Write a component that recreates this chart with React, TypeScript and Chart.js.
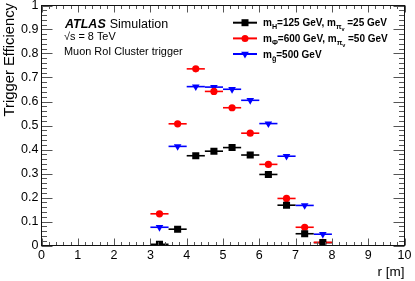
import React, { useEffect, useRef } from 'react';
import { Chart, registerables } from 'chart.js';

Chart.register(...registerables);

// ---- data ----
const binCenters = [3.25, 3.75, 4.25, 4.75, 5.25, 5.75, 6.25, 6.75, 7.25, 7.75];
const binHalfWidth = 0.25;
const effHiggs = [0.005, 0.068, 0.374, 0.393, 0.408, 0.377, 0.296, 0.168, 0.049, 0.012];
const effPhi = [0.132, 0.507, 0.736, 0.642, 0.574, 0.468, 0.338, 0.196, 0.076, 0.013];
const effGluino = [0.076, 0.413, 0.662, 0.66, 0.651, 0.605, 0.508, 0.372, 0.167, 0.047];
const xTickValues = [0, 1, 2, 3, 4, 5, 6, 7, 8, 9, 10];
const yTickValues = [0, 0.1, 0.2, 0.3, 0.4, 0.5, 0.6, 0.7, 0.8, 0.9, 1];
const yTickLabels = ['0', '0.1', '0.2', '0.3', '0.4', '0.5', '0.6', '0.7', '0.8', '0.9', '1'];

const FONT = '"Liberation Sans", Arial, Helvetica, sans-serif';

type Seg = { t: string; lvl: number };

const legendEntries: { color: string; marker: string; segs: Seg[] }[] = [
  {
    color: '#000000',
    marker: 'rect',
    segs: [
      { t: 'm', lvl: 0 },
      { t: 'H', lvl: 1 },
      { t: '=125 GeV, m', lvl: 0 },
      { t: '\u03c0', lvl: 1 },
      { t: 'v', lvl: 2 },
      { t: ' =25 GeV', lvl: 0 },
    ],
  },
  {
    color: '#ff0000',
    marker: 'circle',
    segs: [
      { t: 'm', lvl: 0 },
      { t: '\u03a6', lvl: 1 },
      { t: '=600 GeV, m', lvl: 0 },
      { t: '\u03c0', lvl: 1 },
      { t: 'v', lvl: 2 },
      { t: ' =50 GeV', lvl: 0 },
    ],
  },
  {
    color: '#0000ff',
    marker: 'tri',
    segs: [
      { t: 'm', lvl: 0 },
      { t: 'g\u0303', lvl: 1 },
      { t: '=500 GeV', lvl: 0 },
    ],
  },
];

function drawRich(ctx: CanvasRenderingContext2D, segs: Seg[], x: number, y: number, size: number, weight: string) {
  let cx = x;
  for (const s of segs) {
    const fs = s.lvl === 0 ? size : s.lvl === 1 ? size * 0.72 : size * 0.55;
    const dy = s.lvl === 0 ? 0 : s.lvl === 1 ? size * 0.28 : size * 0.5;
    ctx.font = `${weight} ${fs}px ${FONT}`;
    ctx.fillText(s.t, cx, y + dy);
    cx += ctx.measureText(s.t).width;
  }
}

function drawMarker(ctx: CanvasRenderingContext2D, kind: string, x: number, y: number, color: string) {
  ctx.fillStyle = color;
  ctx.beginPath();
  if (kind === 'rect') {
    ctx.rect(x - 3.5, y - 3.5, 7, 7);
  } else if (kind === 'circle') {
    ctx.arc(x, y, 3.5, 0, Math.PI * 2);
  } else {
    const r = 4.4;
    ctx.moveTo(x, y + r);
    ctx.lineTo(x - r * 0.866, y - r * 0.5);
    ctx.lineTo(x + r * 0.866, y - r * 0.5);
    ctx.closePath();
  }
  ctx.fill();
}

const errorBarPlugin = {
  id: 'errorBars',
  beforeDatasetsDraw(chart: any) {
    const ctx: CanvasRenderingContext2D = chart.ctx;
    const xs = chart.scales.x;
    const ys = chart.scales.y;
    ctx.save();
    chart.data.datasets.forEach((ds: any) => {
      ctx.strokeStyle = ds.backgroundColor;
      ctx.lineWidth = 1.6;
      ds.data.forEach((p: any) => {
        const py = ys.getPixelForValue(p.y);
        ctx.beginPath();
        ctx.moveTo(xs.getPixelForValue(p.x - binHalfWidth), py);
        ctx.lineTo(xs.getPixelForValue(p.x + binHalfWidth), py);
        ctx.stroke();
      });
    });
    ctx.restore();
  },
};

const framePlugin = {
  id: 'rootFrame',
  afterDraw(chart: any) {
    const ctx: CanvasRenderingContext2D = chart.ctx;
    const xs = chart.scales.x;
    const ys = chart.scales.y;
    const { left, right, top, bottom } = chart.chartArea;
    ctx.save();
    // ticks
    ctx.strokeStyle = '#555';
    ctx.lineWidth = 1;
    ctx.beginPath();
    for (let i = 0; i <= 50; i++) {
      const v = i * 0.2;
      const px = Math.round(xs.getPixelForValue(v)) + 0.5;
      const len = i % 5 === 0 ? 7 : 3.5;
      ctx.moveTo(px, bottom);
      ctx.lineTo(px, bottom - len);
      ctx.moveTo(px, top);
      ctx.lineTo(px, top + len);
    }
    for (let i = 0; i <= 50; i++) {
      const v = i * 0.02;
      const py = Math.round(ys.getPixelForValue(v)) + 0.5;
      const len = i % 5 === 0 ? 11 : 5.5;
      ctx.moveTo(left, py);
      ctx.lineTo(left + len, py);
      ctx.moveTo(right, py);
      ctx.lineTo(right - len, py);
    }
    ctx.stroke();
    // frame
    ctx.strokeStyle = '#111';
    ctx.strokeRect(left, top, right - left, bottom - top);

    // tick labels
    ctx.fillStyle = '#000';
    ctx.font = `12.5px ${FONT}`;
    ctx.textAlign = 'center';
    ctx.textBaseline = 'top';
    xTickValues.forEach((v) => {
      ctx.fillText(String(v), xs.getPixelForValue(v), bottom + 3.5);
    });
    ctx.textAlign = 'right';
    ctx.textBaseline = 'middle';
    yTickValues.forEach((v, i) => {
      ctx.fillText(yTickLabels[i], left - 3, ys.getPixelForValue(v) + 0.5);
    });

    // axis titles
    ctx.font = `13.5px ${FONT}`;
    ctx.textAlign = 'right';
    ctx.textBaseline = 'alphabetic';
    ctx.fillText('r [m]', right, 275.5);
    ctx.save();
    ctx.translate(13.5, 3);
    ctx.rotate(-Math.PI / 2);
    ctx.font = `14.8px ${FONT}`;
    ctx.textAlign = 'right';
    ctx.fillText('Trigger Efficiency', 0, 0);
    ctx.restore();

    // ATLAS label
    ctx.textAlign = 'left';
    ctx.font = `italic bold 12.5px ${FONT}`;
    ctx.fillText('ATLAS', 65, 28);
    const w = ctx.measureText('ATLAS').width;
    ctx.font = `12.5px ${FONT}`;
    ctx.fillText('Simulation', 65 + w + 4, 28);
    ctx.font = `10.9px ${FONT}`;
    ctx.fillText('\u221as = 8 TeV', 64, 40);
    ctx.fillText('Muon RoI Cluster trigger', 64, 55);

    // legend
    const rowY = [22.7, 38.4, 54];
    legendEntries.forEach((e, i) => {
      const y = rowY[i];
      ctx.strokeStyle = e.color;
      ctx.lineWidth = 2;
      ctx.beginPath();
      ctx.moveTo(233, y);
      ctx.lineTo(257, y);
      ctx.stroke();
      drawMarker(ctx, e.marker, 245, y, e.color);
      ctx.fillStyle = '#000';
      drawRich(ctx, e.segs, 263, y + 3.7, 10, 'bold');
    });
    ctx.restore();
  },
};

export default function App() {
  const ref = useRef<HTMLCanvasElement | null>(null);
  useEffect(() => {
    document.body.style.margin = '0';
    const canvas = ref.current;
    if (!canvas) return;
    const mk = (arr: number[]) => binCenters.map((x, i) => ({ x, y: arr[i] }));
    const chart = new Chart(canvas, {
      type: 'scatter',
      data: {
        datasets: [
          {
            label: 'mH=125 GeV, mpiv=25 GeV',
            data: mk(effHiggs),
            backgroundColor: '#000000',
            borderColor: '#000000',
            pointStyle: 'rect',
            pointRadius: 5,
            borderWidth: 0,
          },
          {
            label: 'mPhi=600 GeV, mpiv=50 GeV',
            data: mk(effPhi),
            backgroundColor: '#ff0000',
            borderColor: '#ff0000',
            pointStyle: 'circle',
            pointRadius: 3.6,
            borderWidth: 0,
          },
          {
            label: 'mg=500 GeV',
            data: mk(effGluino),
            backgroundColor: '#0000ff',
            borderColor: '#0000ff',
            pointStyle: 'triangle',
            pointRotation: 180,
            pointRadius: 4.4,
            borderWidth: 0,
          },
        ],
      },
      options: {
        animation: false,
        responsive: false,
        devicePixelRatio: 1,
        layout: { padding: { left: 41.5, right: 10.5, top: 5.5, bottom: 35.5 } },
        plugins: { legend: { display: false }, tooltip: { enabled: false } },
        scales: {
          x: { type: 'linear', min: 0, max: 10, display: false },
          y: { type: 'linear', min: 0, max: 1, display: false },
        },
      },
      plugins: [errorBarPlugin, framePlugin],
    });
    return () => chart.destroy();
  }, []);
  return (
    <div style={{ position: 'absolute', left: 0, top: 0, width: 415, height: 281, background: '#fff' }}>
      <canvas ref={ref} width={415} height={281} style={{ width: 415, height: 281, display: 'block' }} />
    </div>
  );
}
